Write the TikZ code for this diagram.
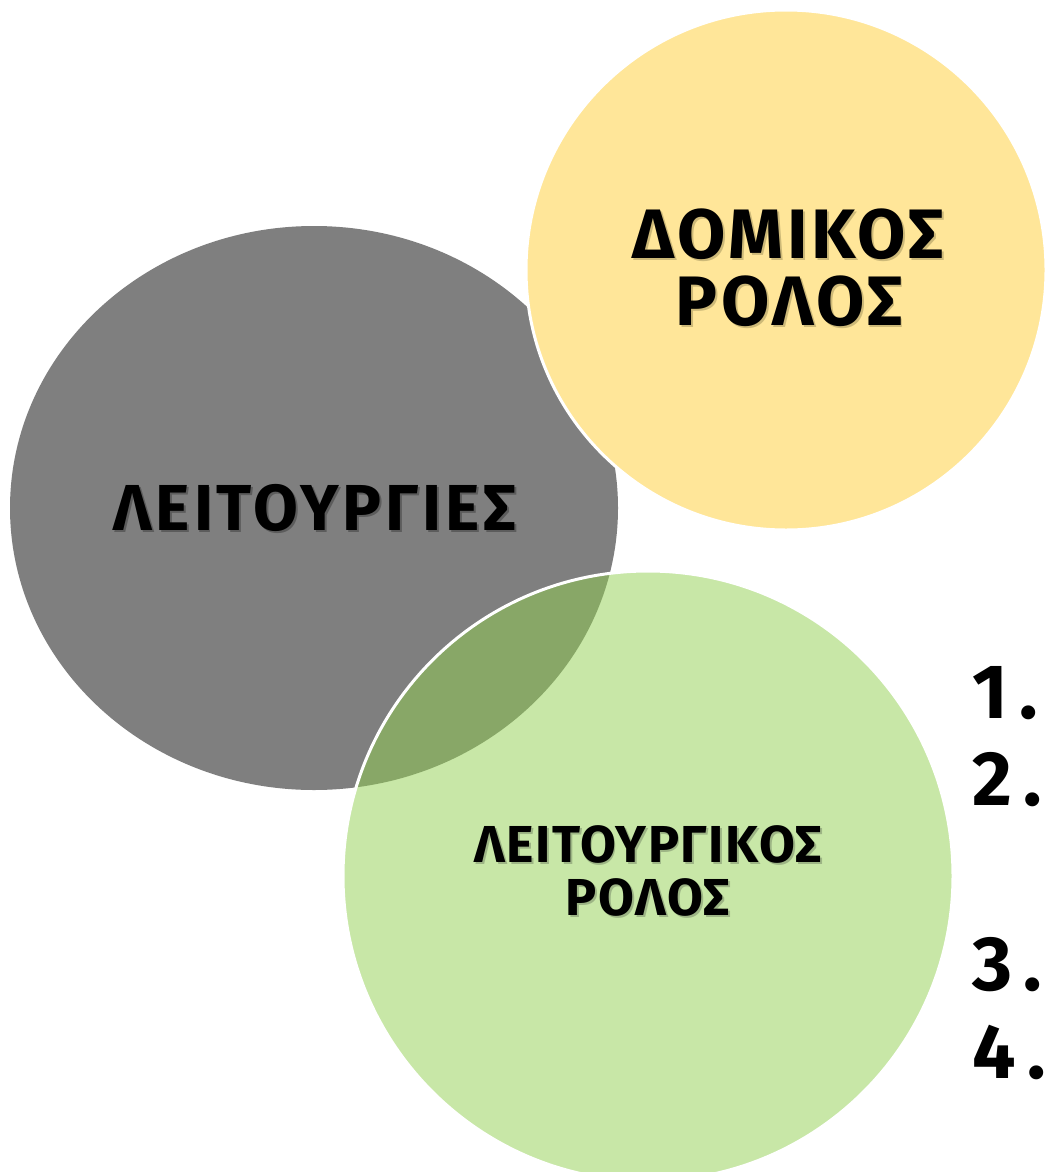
\documentclass[tikz,border=0pt]{standalone}
\usepackage{fontspec}
\setmainfont{Fira Sans}
\newfontfamily\lblfont{Fira Sans Bold}
\definecolor{greyfill}{HTML}{7F7F7F}
\definecolor{goldfill}{HTML}{FFE699}
\definecolor{greenfill}{HTML}{92D050}
\definecolor{shgrey}{HTML}{5C5C5C}
\definecolor{shgold}{HTML}{CDB978}
\definecolor{shgreen}{HTML}{9DB585}
\newcommand\shtxt[2]{\rlap{\kern2pt\raisebox{-2pt}{\textcolor{#1}{#2}}}#2}
\begin{document}
\begin{tikzpicture}[x=1pt,y=-1pt,
  labeltxt/.style={anchor=base,inner sep=0pt,text=black}]
\useasboundingbox (0,0) rectangle (1046,1172);
\fill[white] (0,0) rectangle (1046,1172);
% shapes
\fill[greyfill] (314,508) ellipse [x radius=304, y radius=282];
\filldraw[fill=goldfill, draw=white, line width=3pt] (786,270) circle [radius=260];
\path[fill=greenfill, fill opacity=0.5, draw=white, line width=3pt] (648,876) circle [radius=305];
% labels
\node[labeltxt,font=\lblfont\fontsize{70}{70}\selectfont\addfontfeatures{LetterSpace=5}] (dom1) at (788,258) {\shtxt{shgold}{ΔΟΜΙΚΟΣ}};
\node[labeltxt,font=\lblfont\fontsize{70}{70}\selectfont\addfontfeatures{LetterSpace=5}] (dom2) at (789,325) {\shtxt{shgold}{ΡΟΛΟΣ}};
\node[labeltxt,font=\lblfont\fontsize{65}{65}\selectfont\addfontfeatures{LetterSpace=6}] (leit) at (315,530) {\shtxt{shgrey}{ΛΕΙΤΟΥΡΓΙΕΣ}};
\node[labeltxt,font=\lblfont\fontsize{52}{52}\selectfont\addfontfeatures{LetterSpace=3}] (lr1) at (648,862) {\shtxt{shgreen}{ΛΕΙΤΟΥΡΓΙΚΟΣ}};
\node[labeltxt,font=\lblfont\fontsize{52}{52}\selectfont\addfontfeatures{LetterSpace=3}] (lr2) at (648,915) {\shtxt{shgreen}{ΡΟΛΟΣ}};
% numbers
\tikzset{numtxt/.style={anchor=base west,inner sep=0pt,text=black,font=\lblfont\fontsize{77}{77}\selectfont\addfontfeatures{LetterSpace=15}}}
\node[numtxt] (n1) at (972,718) {1.};
\node[numtxt] (n2) at (972,805) {2.};
\node[numtxt] (n3) at (972,990) {3.};
\node[numtxt] (n4) at (972,1078) {4.};
\end{tikzpicture}
\end{document}
